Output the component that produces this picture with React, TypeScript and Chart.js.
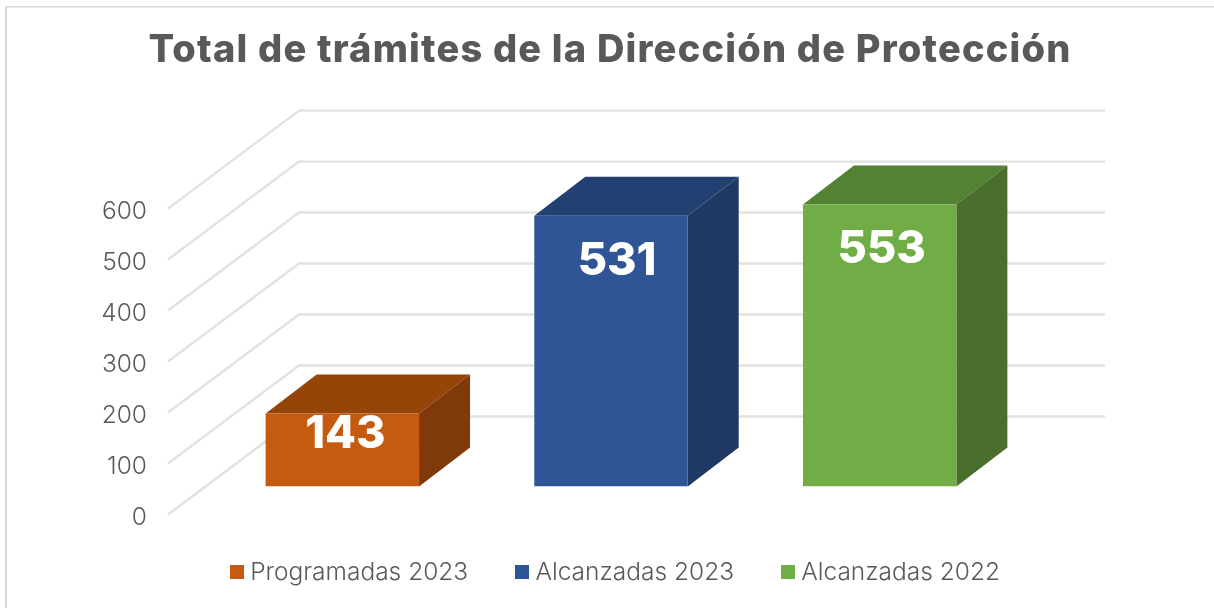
import React, { useEffect, useRef } from "react";
import { Chart, registerables } from "chart.js";

Chart.register(...registerables);

const titleText = "Total de trámites de la Dirección de Protección";
const categories = ["Trámites"];
const seriesNames = ["Programadas 2023", "Alcanzadas 2023", "Alcanzadas 2022"];
const seriesValues = [143, 531, 553];
const frontColors = ["#C55A11", "#2F5597", "#70AD47"];
const topColors = ["#964509", "#234073", "#548235"];
const sideColors = ["#80390A", "#1F3864", "#4A6E2B"];
const yTicks = [0, 100, 200, 300, 400, 500, 600];

const FONT = "Inter, 'Open Sans', sans-serif";
const TEXT = "#595959";
const WALL_DX = 131;
const WALL_DY = -98;
const WALL_W = 806;
const BAR_DX = 40;
const BAR_DY = -28;
const DEPTH_DX = 51;
const DEPTH_DY = -39;
const LABEL_DX = [3, 6, 2];
const LABEL_DY = [21, 46, 45];
const LEGEND_PAD = 53;

const poly = (ctx: CanvasRenderingContext2D, pts: number[][], color: string) => {
  ctx.fillStyle = color;
  ctx.beginPath();
  pts.forEach(([x, y], i) => (i ? ctx.lineTo(x, y) : ctx.moveTo(x, y)));
  ctx.closePath();
  ctx.fill();
};

const swatch = (color: string) => {
  const c = document.createElement("canvas");
  c.width = 14;
  c.height = 14;
  const g = c.getContext("2d") as CanvasRenderingContext2D;
  g.fillStyle = color;
  g.fillRect(0, 0, 14, 14);
  return c;
};

const threeD = {
  id: "threeD",
  afterLayout(chart: any) {
    const { titleBlock, legend, width } = chart;
    titleBlock.left = 6;
    titleBlock.right = width;
    legend.left = 22;
    legend.right = width;
    legend.top = 560 - LEGEND_PAD;
    if (!titleBlock.__spaced) {
      titleBlock.__spaced = true;
      const draw = titleBlock.draw;
      titleBlock.draw = function () {
        const ctx = this.ctx;
        ctx.save();
        ctx.letterSpacing = "1.2px";
        draw.call(this);
        ctx.restore();
      };
    }
  },
  beforeDraw(chart: any) {
    const { ctx, width, height } = chart;
    ctx.save();
    ctx.fillStyle = "#fff";
    ctx.fillRect(0, 0, width, height);
    ctx.fillStyle = "#d9d9d9";
    ctx.fillRect(5, 6, width - 5, 1.5);
    ctx.fillRect(5, 6, 2, height - 6);
    ctx.restore();
  },
  beforeDatasetsDraw(chart: any) {
    const { ctx, chartArea, scales } = chart;
    const x0 = chartArea.left;
    ctx.save();
    ctx.strokeStyle = "#e2e2e2";
    ctx.lineWidth = 2.4;
    ctx.lineJoin = "round";
    yTicks.forEach((t) => {
      const y = scales.y.getPixelForValue(t);
      ctx.beginPath();
      ctx.moveTo(x0, y);
      ctx.lineTo(x0 + WALL_DX, y + WALL_DY);
      ctx.lineTo(x0 + WALL_DX + WALL_W, y + WALL_DY);
      ctx.stroke();
    });
    ctx.restore();
  },
  beforeDatasetDraw(chart: any, args: any) {
    const { ctx } = chart;
    const i = args.index;
    ctx.save();
    ctx.translate(BAR_DX, BAR_DY);
    chart.getDatasetMeta(i).data.forEach((bar: any) => {
      const { x, y, base, width } = bar.getProps(["x", "y", "base", "width"], true);
      const l = x - width / 2;
      const r = x + width / 2;
      poly(ctx, [[l, y], [r, y], [r + DEPTH_DX, y + DEPTH_DY], [l + DEPTH_DX, y + DEPTH_DY]], topColors[i]);
      poly(ctx, [[r, y], [r + DEPTH_DX, y + DEPTH_DY], [r + DEPTH_DX, base + DEPTH_DY], [r, base]], sideColors[i]);
    });
  },
  afterDatasetDraw(chart: any) {
    chart.ctx.restore();
  },
  afterDatasetsDraw(chart: any) {
    const { ctx } = chart;
    ctx.save();
    ctx.fillStyle = "#fff";
    ctx.font = `800 45px ${FONT}`;
    ctx.textAlign = "center";
    ctx.textBaseline = "middle";
    chart.data.datasets.forEach((ds: any, i: number) => {
      const bar = chart.getDatasetMeta(i).data[0];
      const { x, y } = bar.getProps(["x", "y"], true);
      ctx.fillText(String(ds.data[0]), x + BAR_DX + LABEL_DX[i], y + BAR_DY + LABEL_DY[i]);
    });
    ctx.restore();
  },
};

export default function App() {
  const ref = useRef<HTMLCanvasElement | null>(null);
  useEffect(() => {
    document.body.style.margin = "0";
    const chart = new Chart(ref.current as HTMLCanvasElement, {
      type: "bar",
      data: {
        labels: categories,
        datasets: seriesNames.map((name, i) => ({
          label: name,
          data: [seriesValues[i]],
          backgroundColor: frontColors[i],
          borderWidth: 0,
        })),
      },
      options: {
        responsive: false,
        animation: false,
        datasets: { bar: { categoryPercentage: 1, barPercentage: 0.571 } },
        layout: { padding: { left: 60, right: 240, top: 0, bottom: 6 } },
        plugins: {
          tooltip: { enabled: false },
          title: {
            display: true,
            text: titleText,
            color: TEXT,
            font: { family: FONT, size: 38, weight: "800" },
            padding: { top: 28, bottom: 135 },
          },
          legend: {
            position: "bottom",
            align: "center",
            labels: {
              color: TEXT,
              usePointStyle: true,
              pointStyleWidth: 2,
              boxHeight: 14,
              padding: LEGEND_PAD,
              font: { family: FONT, size: 24.5, weight: "300" },
              generateLabels: () =>
                seriesNames.map((name, i) => ({
                  text: name,
                  fontColor: TEXT,
                  fillStyle: frontColors[i],
                  strokeStyle: frontColors[i],
                  lineWidth: 0,
                  pointStyle: swatch(frontColors[i]),
                  datasetIndex: i,
                })),
            },
          },
        },
        scales: {
          x: { display: false },
          y: {
            min: 0,
            max: 600,
            afterFit(scale: any) {
              scale.width = 108;
            },
            afterBuildTicks(scale: any) {
              scale.ticks = yTicks.map((value) => ({ value }));
            },
            grid: { display: false, drawTicks: false },
            border: { display: false },
            ticks: {
              color: TEXT,
              padding: 21,
              labelOffset: 3,
              font: { family: FONT, size: 24.5, weight: "300" },
            },
          },
        },
      },
      plugins: [threeD],
    } as any);
    return () => chart.destroy();
  }, []);
  return <canvas ref={ref} width={1214} height={608} style={{ display: "block" }} />;
}
